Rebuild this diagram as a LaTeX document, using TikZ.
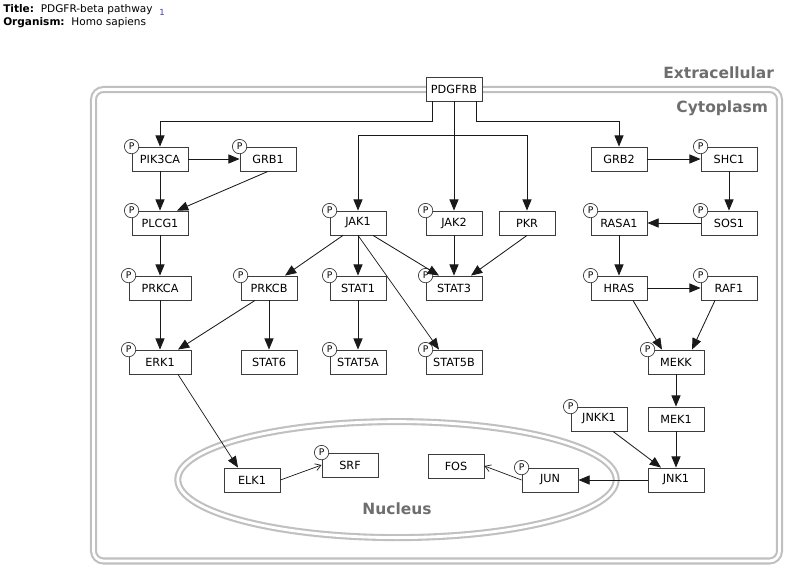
\documentclass[tikz,border=0pt]{standalone}
\usepackage{xcolor}
\usepackage{fontspec}
\setmainfont{DejaVu Sans}
\usepackage{tikz}
\usetikzlibrary{arrows.meta,positioning,calc}
\definecolor{boxgray}{RGB}{60,60,60}
\definecolor{edgegray}{RGB}{25,25,25}
\definecolor{cmpgray}{RGB}{192,192,192}
\definecolor{cmptext}{RGB}{110,110,110}
\definecolor{linkblue}{RGB}{60,60,170}

\begin{document}
\begin{tikzpicture}[
    on grid,
    gene/.style={rectangle, draw=boxgray, fill=white, line width=0.6pt,
                 minimum width=1.4cm, minimum height=0.6cm, inner sep=1pt,
                 font=\fontsize{8}{9}\selectfont},
    genewide/.style={gene, minimum width=1.55cm},
    pcirc/.style={circle, draw=boxgray, fill=white, line width=0.5pt, minimum size=0.36cm,
                  inner sep=0pt, anchor=center, font=\fontsize{6.5}{7}\selectfont},
    phos/.style={label={[pcirc]north west:P}},
    arrow/.style={-{Triangle[length=8pt,width=6.5pt]}, line width=0.6pt, edgegray},
    openarrow/.style={-{Straight Barb[length=4pt,width=5pt]}, line width=0.5pt, edgegray},
    compartment/.style={draw=cmpgray, line width=1.5pt, double=white, double distance=2pt},
    cmplabel/.style={text=cmptext, font=\fontsize{11}{12}\selectfont\bfseries}
]
\useasboundingbox (0,0) rectangle (20,-14.5);
\draw[compartment, rounded corners=0.25cm] (2.3375,-2.2375) rectangle (19.4875,-14.025);
\draw[compartment] (9.925,-11.99) ellipse (5.48cm and 1.45cm);
\node[cmplabel, anchor=east] (extra) at (19.475,-1.825) {Extracellular};
\node[cmplabel, anchor=east] (cyto) at (19.325,-2.7) {Cytoplasm};
\node[cmplabel] (nucleus) at (9.925,-12.725) {Nucleus};

\node[anchor=base west, inner sep=0pt, font=\fontsize{7.5}{8}\selectfont] (title) at (0.075,-0.325)
    {\textbf{Title:}\ \ PDGFR-beta pathway\ \ \raisebox{-1.5pt}{\textcolor{linkblue}{\fontsize{6}{6}\selectfont 1}}};
\node[anchor=base west, inner sep=0pt, font=\fontsize{7.5}{8}\selectfont] (organism) at (0.075,-0.65)
    {\textbf{Organism:}\ \ Homo sapiens};

\node[gene] (pdgfrb) at (11.35,-2.225) {PDGFRB};
\node[gene, phos, below=3.35cm of pdgfrb] (jak2) {JAK2};
\node[gene, phos, left=2.4cm of jak2] (jak1) {JAK1};
\node[gene, right=1.825cm of jak2] (pkr) {PKR};
\node[gene, phos, right=2.3cm of pkr] (rasa1) {RASA1};
\node[gene, phos, right=2.75cm of rasa1] (sos1) {SOS1};
\node[gene, above=1.6cm of rasa1] (grb2) {GRB2};
\node[gene, phos, above=1.6cm of sos1] (shc1) {SHC1};
\node[gene, phos, left=4.95cm of jak1] (plcg1) {PLCG1};
\node[gene, phos, above=1.6cm of plcg1] (pik3ca) {PIK3CA};
\node[gene, phos, right=2.7cm of pik3ca] (grb1) {GRB1};
\node[genewide, phos, below=1.625cm of plcg1] (prkca) {PRKCA};
\node[gene, phos, right=2.725cm of prkca] (prkcb) {PRKCB};
\node[gene, phos, below=1.625cm of jak1] (stat1) {STAT1};
\node[gene, phos, below=1.625cm of jak2] (stat3) {STAT3};
\node[gene, phos, below=1.625cm of rasa1] (hras) {HRAS};
\node[gene, phos, below=1.625cm of sos1] (raf1) {RAF1};
\node[genewide, phos, below=1.85cm of prkca] (erk1) {ERK1};
\node[gene, below=1.85cm of prkcb] (stat6) {STAT6};
\node[gene, phos, below=1.85cm of stat1] (stat5a) {STAT5A};
\node[gene, phos, below=1.85cm of stat3] (stat5b) {STAT5B};
\node[gene, phos, below right=1.85cm and 1.425cm of hras] (mekk) {MEKK};
\node[gene, below=1.425cm of mekk] (mek1) {MEK1};
\node[gene, phos, left=1.925cm of mek1] (jnkk1) {JNKK1};
\node[gene, below=1.525cm of mek1] (jnk1) {JNK1};
\node[gene, phos, left=3.15cm of jnk1] (jun) {JUN};
\node[gene, above left=0.35cm and 2.35cm of jun] (fos) {FOS};
\node[gene, below right=2.95cm and 2.3cm of erk1] (elk1) {ELK1};
\node[gene, phos, above right=0.375cm and 2.45cm of elk1] (srf) {SRF};

\draw[arrow] ([xshift=-0.55cm]pdgfrb.south) -- ++(0,-0.5) -| (pik3ca);
\draw[arrow] (pdgfrb.south) -- ++(0,-0.85) -| (jak1);
\draw[arrow] (pdgfrb) -- (jak2);
\draw[arrow] (pdgfrb.south) -- ++(0,-0.85) -| (pkr);
\draw[arrow] ([xshift=0.55cm]pdgfrb.south) -- ++(0,-0.5) -| (grb2);
\draw[arrow] (pik3ca) -- (grb1);
\draw[arrow] (pik3ca) -- (plcg1);
\draw[arrow] (grb1.south) -- ([xshift=0.425cm]plcg1.north);
\draw[arrow] (plcg1) -- (prkca);
\draw[arrow] (prkca) -- (erk1);
\draw[arrow] ([xshift=-0.375cm]jak1.south) -- ([xshift=0.4cm]prkcb.north);
\draw[arrow] (jak1) -- (stat1);
\draw[arrow] ([xshift=0.375cm]jak1.south) -- ([xshift=-0.375cm]stat3.north);
\draw[arrow, line width=0.5pt] (jak1.south) -- ([xshift=-0.375cm]stat5b.north);
\draw[arrow] (jak2) -- (stat3);
\draw[arrow] (pkr.south) -- ([xshift=0.425cm]stat3.north);
\draw[arrow] (stat1) -- (stat5a);
\draw[arrow] ([xshift=-0.35cm]prkcb.south) -- ([xshift=0.45cm]erk1.north);
\draw[arrow] (prkcb) -- (stat6);
\draw[arrow] (grb2) -- (shc1);
\draw[arrow] (shc1) -- (sos1);
\draw[arrow] (sos1) -- (rasa1);
\draw[arrow] (rasa1) -- (hras);
\draw[arrow] (hras) -- (raf1);
\draw[arrow] ([xshift=0.35cm]hras.south) -- ([xshift=-0.35cm]mekk.north);
\draw[arrow] ([xshift=-0.35cm]raf1.south) -- ([xshift=0.4cm]mekk.north);
\draw[arrow] (mekk) -- (mek1);
\draw[arrow] (mek1) -- (jnk1);
\draw[arrow] ([xshift=0.35cm]jnkk1.south) -- ([xshift=-0.375cm]jnk1.north);
\draw[arrow] (jnk1) -- (jun);
\draw[arrow, line width=0.5pt] ([xshift=0.45cm]erk1.south) -- ([xshift=-0.35cm]elk1.north);
\draw[openarrow] (elk1.east) -- (srf.west);
\draw[openarrow] (jun.west) -- (fos.east);
\end{tikzpicture}
\end{document}
